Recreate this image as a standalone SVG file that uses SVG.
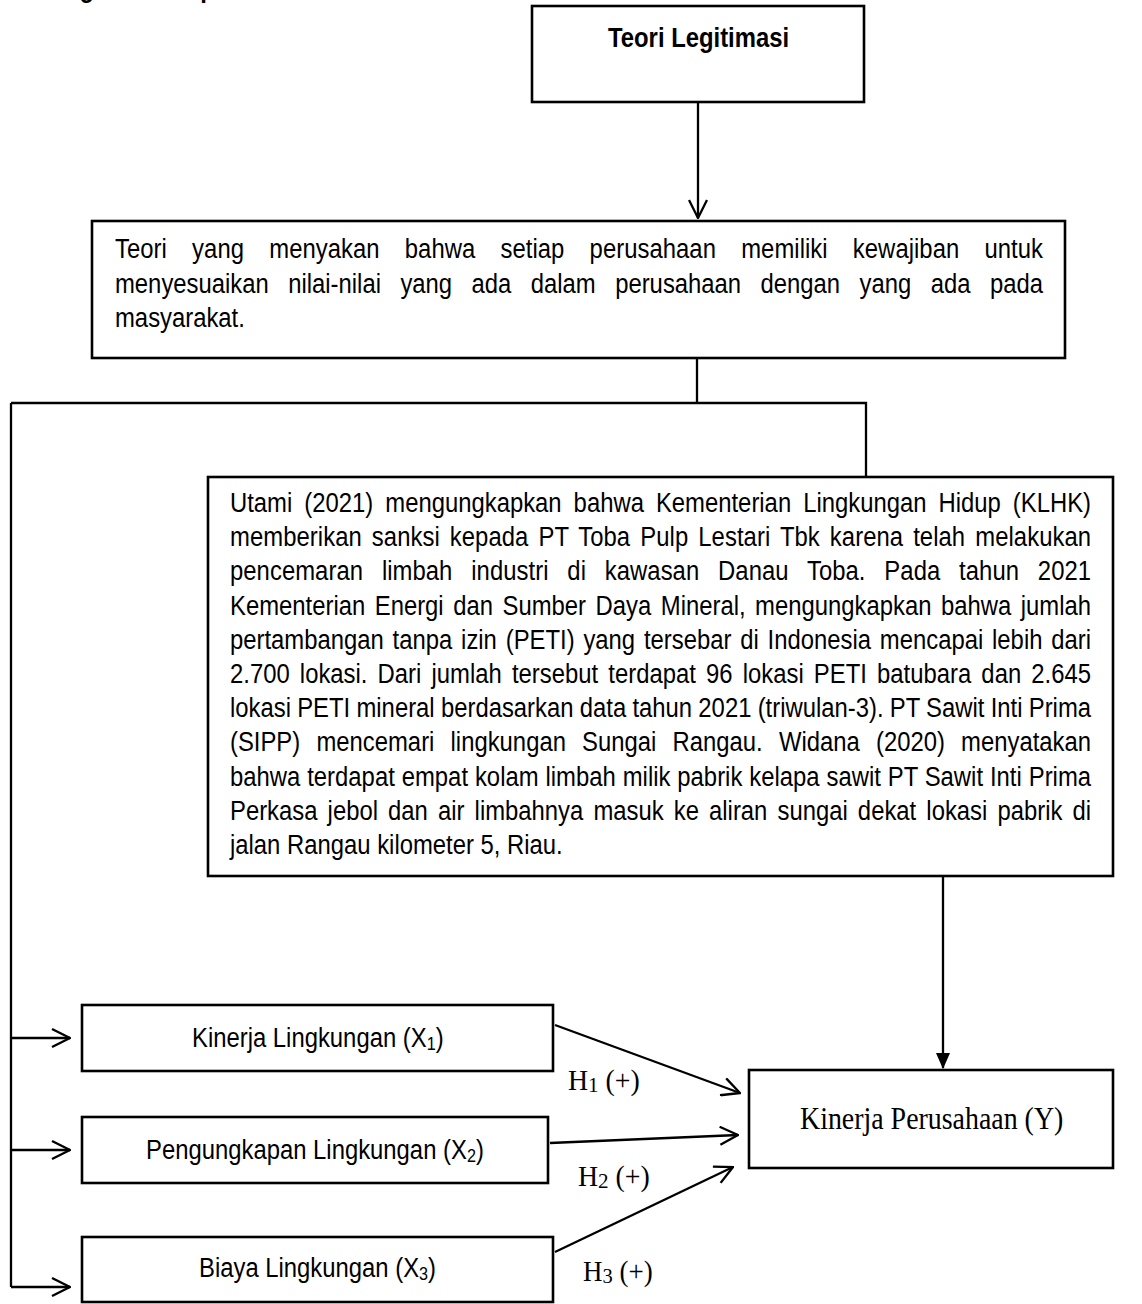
<svg xmlns="http://www.w3.org/2000/svg" width="1142" height="1304" viewBox="0 0 1142 1304">
<style>
.box{fill:#fff;stroke:#000;stroke-width:2.6}
.ln{fill:none;stroke:#000;stroke-width:2.3}
.t{font-family:"Liberation Sans",Arial,sans-serif;font-size:28px;fill:#000}
.tb{font-family:"Liberation Sans",Arial,sans-serif;font-size:28px;font-weight:bold;fill:#000}
.tr{font-family:"Liberation Serif","Times New Roman",serif;font-size:29px;fill:#000}
</style>
<defs>
<marker id="open" viewBox="0 0 20 20" refX="19" refY="10" markerWidth="20" markerHeight="20" markerUnits="userSpaceOnUse" orient="auto">
<path d="M1,1 L19,10 L1,19" fill="none" stroke="#000" stroke-width="2.3"/>
</marker>
<marker id="solid" viewBox="0 0 16 14" refX="15" refY="7" markerWidth="16" markerHeight="14" markerUnits="userSpaceOnUse" orient="auto">
<path d="M0,0 L16,7 L0,14 z" fill="#000"/>
</marker>
</defs>
<rect width="1142" height="1304" fill="#fff"/>
<text class="tb" transform="translate(12,-3) scale(0.852,1)">Kerangka Konseptual</text>

<g id="connectors">
<path class="ln" d="M698,102 V218" marker-end="url(#open)"/>
<path class="ln" d="M697,358 V403"/>
<path class="ln" d="M11,403 H866 V477"/>
<path class="ln" d="M11,403 V1287"/>
<path class="ln" d="M11,1038 H70" marker-end="url(#open)"/>
<path class="ln" d="M11,1150 H70" marker-end="url(#open)"/>
<path class="ln" d="M11,1287 H70" marker-end="url(#open)"/>
<path class="ln" d="M943,876 V1068" marker-end="url(#solid)"/>
<path class="ln" d="M555,1025 L740,1093" marker-end="url(#open)"/>
<path class="ln" d="M550,1143 L738,1135" marker-end="url(#open)"/>
<path class="ln" d="M555,1252 L733,1167" marker-end="url(#open)"/>
<text class="tr" transform="translate(568,1090) scale(0.96,1)">H<tspan font-size="22" dy="2">1</tspan><tspan dy="-2"> (+)</tspan></text>
<text class="tr" transform="translate(578,1186) scale(0.96,1)">H<tspan font-size="22" dy="2">2</tspan><tspan dy="-2"> (+)</tspan></text>
<text class="tr" transform="translate(583,1281) scale(0.93,1)">H<tspan font-size="22" dy="2">3</tspan><tspan dy="-2"> (+)</tspan></text>
</g>

<g id="teori-legitimasi">
<rect class="box" x="532" y="6" width="332" height="96"/>
<text class="tb" transform="translate(608,47) scale(0.852,1)">Teori Legitimasi</text>
</g>

<g id="definisi">
<rect class="box" x="92" y="221" width="973" height="137"/>
<text class="t" transform="translate(115,258) scale(0.852,1)" textLength="1089.2" lengthAdjust="spacing" word-spacing="21.8">Teori yang menyakan bahwa setiap perusahaan memiliki kewajiban untuk</text>
<text class="t" transform="translate(115,292.5) scale(0.852,1)" textLength="1089.2" lengthAdjust="spacing" word-spacing="15.04">menyesuaikan nilai-nilai yang ada dalam perusahaan dengan yang ada pada</text>
<text class="t" transform="translate(115,327) scale(0.852,1)">masyarakat.</text>
</g>

<g id="fenomena">
<rect class="box" x="208" y="477" width="905" height="399"/>
<text class="t" transform="translate(230,512) scale(0.852,1)" textLength="1010.6" lengthAdjust="spacing" word-spacing="6.34">Utami (2021) mengungkapkan bahwa Kementerian Lingkungan Hidup (KLHK)</text>
<text class="t" transform="translate(230,546.2) scale(0.852,1)" textLength="1010.6" lengthAdjust="spacing" word-spacing="3.98">memberikan sanksi kepada PT Toba Pulp Lestari Tbk karena telah melakukan</text>
<text class="t" transform="translate(230,580.4) scale(0.852,1)" textLength="1010.6" lengthAdjust="spacing" word-spacing="14.26">pencemaran limbah industri di kawasan Danau Toba. Pada tahun 2021</text>
<text class="t" transform="translate(230,614.6) scale(0.852,1)" textLength="1010.6" lengthAdjust="spacing" word-spacing="3.41">Kementerian Energi dan Sumber Daya Mineral, mengungkapkan bahwa jumlah</text>
<text class="t" transform="translate(230,648.8) scale(0.852,1)" textLength="1010.6" lengthAdjust="spacing" word-spacing="2.57">pertambangan tanpa izin (PETI) yang tersebar di Indonesia mencapai lebih dari</text>
<text class="t" transform="translate(230,683) scale(0.852,1)" textLength="1010.6" lengthAdjust="spacing" word-spacing="4.16">2.700 lokasi. Dari jumlah tersebut terdapat 96 lokasi PETI batubara dan 2.645</text>
<text class="t" transform="translate(230,717.2) scale(0.852,1)" textLength="1010.6" lengthAdjust="spacing" word-spacing="-0.48">lokasi PETI mineral berdasarkan data tahun 2021 (triwulan-3). PT Sawit Inti Prima</text>
<text class="t" transform="translate(230,751.4) scale(0.852,1)" textLength="1010.6" lengthAdjust="spacing" word-spacing="11.23">(SIPP) mencemari lingkungan Sungai Rangau. Widana (2020) menyatakan</text>
<text class="t" transform="translate(230,785.6) scale(0.852,1)" textLength="1010.6" lengthAdjust="spacing" word-spacing="0.34">bahwa terdapat empat kolam limbah milik pabrik kelapa sawit PT Sawit Inti Prima</text>
<text class="t" transform="translate(230,819.8) scale(0.852,1)" textLength="1010.6" lengthAdjust="spacing" word-spacing="4.09">Perkasa jebol dan air limbahnya masuk ke aliran sungai dekat lokasi pabrik di</text>
<text class="t" transform="translate(230,854) scale(0.852,1)">jalan Rangau kilometer 5, Riau.</text>
</g>

<g id="x1">
<rect class="box" x="82" y="1005" width="471" height="66"/>
<text class="t" transform="translate(192,1047) scale(0.852,1)">Kinerja Lingkungan (X<tspan font-size="19" dy="3">1</tspan><tspan dy="-3">)</tspan></text>
</g>

<g id="x2">
<rect class="box" x="82" y="1117" width="466" height="66"/>
<text class="t" transform="translate(146,1159) scale(0.852,1)">Pengungkapan Lingkungan (X<tspan font-size="19" dy="3">2</tspan><tspan dy="-3">)</tspan></text>
</g>

<g id="x3">
<rect class="box" x="82" y="1237" width="471" height="65"/>
<text class="t" transform="translate(199,1277) scale(0.852,1)">Biaya Lingkungan (X<tspan font-size="19" dy="3">3</tspan><tspan dy="-3">)</tspan></text>
</g>

<g id="y">
<rect class="box" x="749" y="1070" width="364" height="98"/>
<text class="tr" style="font-size:31px" transform="translate(800,1129) scale(0.9,1)">Kinerja Perusahaan (Y)</text>
</g>
</svg>
